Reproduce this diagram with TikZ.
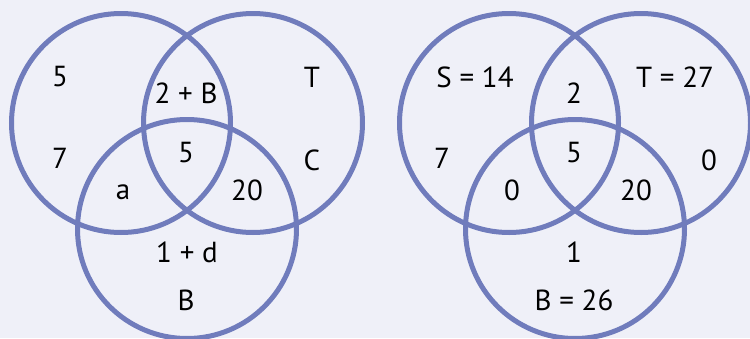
\documentclass[tikz,border=0pt]{standalone}
\usepackage{fontspec}
\setmainfont{PT Sans}
\begin{document}
\begin{tikzpicture}[x=1pt,y=-1pt,
  vcirc/.style={circle,draw=circcol,line width=5pt,minimum size=219pt,inner sep=0pt},
  lbl/.style={font=\fontsize{29}{32}\selectfont,text=black,inner sep=0pt}]
\definecolor{bgcol}{RGB}{239,240,248}
\definecolor{circcol}{RGB}{112,124,188}
\fill[bgcol] (0,0) rectangle (750,338);
\useasboundingbox (0,0) rectangle (750,338);
% left diagram
\node[vcirc] (L1) at (121,123) {};
\node[vcirc] (L2) at (253,123) {};
\node[vcirc] (L3) at (187,229) {};
\node[lbl] (la) at (60,77) {5};
\node[lbl] (lb) at (186,93) {2 + B};
\node[lbl] (lc) at (312,77) {T};
\node[lbl] (ld) at (60,158) {7};
\node[lbl] (le) at (186,153) {5};
\node[lbl] (lf) at (312,160) {C};
\node[lbl] (lg) at (123,192) {a};
\node[lbl] (lh) at (247,190) {20};
\node[lbl] (li) at (187,252) {1 + d};
\node[lbl] (lj) at (186,300) {B};
% right diagram
\node[vcirc] (R1) at (509,123) {};
\node[vcirc] (R2) at (641,123) {};
\node[vcirc] (R3) at (575,229) {};
\node[lbl] (ra) at (475,77) {S = 14};
\node[lbl] (rb) at (574,93) {2};
\node[lbl] (rc) at (675,77) {T = 27};
\node[lbl] (rd) at (442,158) {7};
\node[lbl] (re) at (574,153) {5};
\node[lbl] (rf) at (709,160) {0};
\node[lbl] (rg) at (512,190) {0};
\node[lbl] (rh) at (636,190) {20};
\node[lbl] (ri) at (574,252) {1};
\node[lbl] (rj) at (574,300) {B = 26};
\end{tikzpicture}
\end{document}
